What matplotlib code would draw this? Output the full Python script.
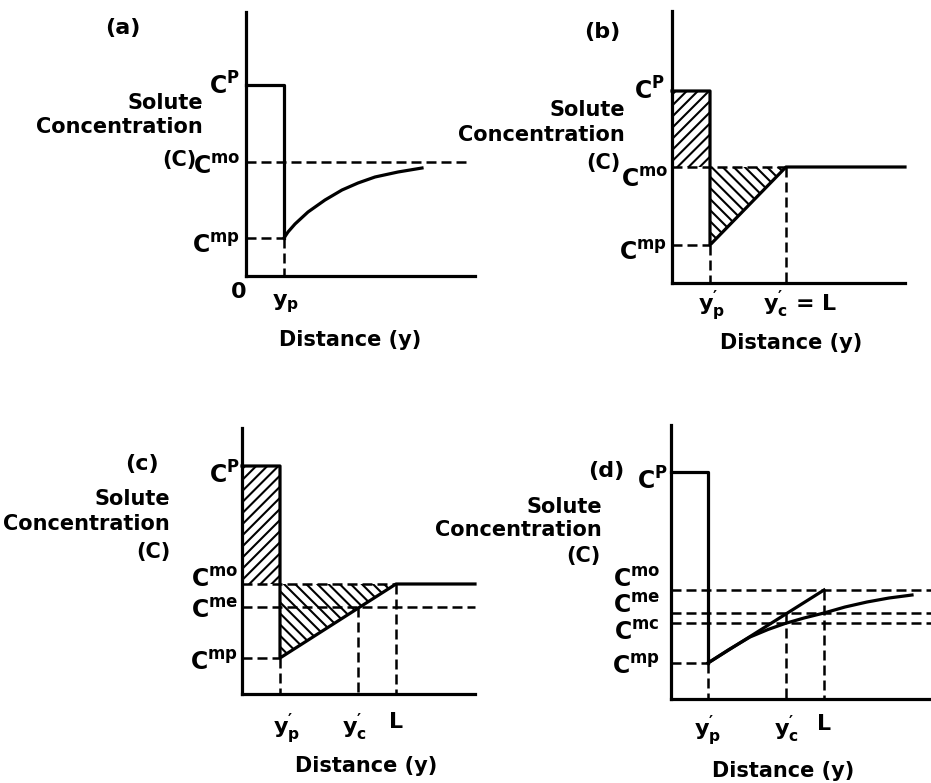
import matplotlib
matplotlib.use('Agg')
import matplotlib.pyplot as plt
from matplotlib.patches import Polygon

FIG_W, FIG_H = 931, 783
LW = 2.3
DASH = dict(color='black', lw=1.8, linestyle=(0, (4, 2)), clip_on=False)
SOLID = dict(color='black', lw=LW, clip_on=False, solid_joinstyle='round')

plt.rcParams['font.family'] = ['DejaVu Sans']
plt.rcParams['font.weight'] = 'bold'
plt.rcParams['mathtext.fontset'] = 'custom'
plt.rcParams['mathtext.rm'] = 'DejaVu Sans:bold'
plt.rcParams['mathtext.it'] = 'DejaVu Sans:bold'
plt.rcParams['mathtext.bf'] = 'DejaVu Sans:bold'
plt.rcParams['hatch.linewidth'] = 1.5

# panel (a): distance / concentration in arbitrary units
a_xmax, a_ymax = 22.9, 26.4
a_yp = 3.8
a_cp, a_cmo, a_cmp = 19.1, 11.4, 3.8
a_dash_end = 22.2
a_curve_y = [3.8, 4.2, 4.9, 6.2, 7.9, 9.6, 11.2, 12.9, 15.2, 17.6]
a_curve_c = [3.8, 4.4, 5.2, 6.4, 7.6, 8.6, 9.3, 9.9, 10.4, 10.8]

# panel (b)
b_xmax, b_ymax = 23.3, 27.2
b_yp, b_L = 3.8, 11.4
b_cp, b_cmo, b_cmp = 19.2, 11.6, 3.8

# panel (c)
c_xmax, c_ymax = 23.3, 26.6
c_yp, c_yc, c_L = 3.8, 11.6, 15.4
c_cp, c_cmo, c_cme, c_cmp = 22.8, 11.0, 8.7, 3.6

# panel (d)
d_xmax, d_ymax = 26.0, 27.4
d_yp, d_yc, d_L = 3.7, 11.5, 15.3
d_cp, d_cmo, d_cme, d_cmc, d_cmp = 22.7, 10.9, 8.6, 7.6, 3.6
d_curve_y = [3.7, 5.8, 7.9, 9.7, 11.4, 13.3, 15.3, 17.4, 19.6, 21.8, 24.1]
d_curve_c = [3.6, 4.95, 6.2, 6.95, 7.55, 8.1, 8.6, 9.2, 9.7, 10.1, 10.4]

fig = plt.figure(figsize=(FIG_W / 100, FIG_H / 100), dpi=100)


def panel_axes(left, top, right, bottom, xmax, ymax):
    ax = fig.add_axes([left / FIG_W, 1 - bottom / FIG_H,
                       (right - left) / FIG_W, (bottom - top) / FIG_H])
    ax.set_xlim(0, xmax)
    ax.set_ylim(0, ymax)
    for s in ['top', 'right']:
        ax.spines[s].set_visible(False)
    for s in ['left', 'bottom']:
        ax.spines[s].set_linewidth(LW)
    ax.set_xticks([])
    ax.set_yticks([])
    ax.patch.set_visible(False)
    return ax


def c_label(ax, level, sup, dx, dy):
    text = r'C$^{\mathrm{%s}}$' % sup
    ax.annotate(text, xy=(0, level), xytext=(dx, dy), textcoords='offset pixels',
                ha='right', va='baseline', fontsize=17, annotation_clip=False)


def x_label(ax, pos, text, dx, dy):
    ax.annotate(text, xy=(pos, 0), xytext=(dx, dy), textcoords='offset pixels',
                ha='center', va='top', fontsize=16, annotation_clip=False)


def fig_text(x, y, s, ha='center', size=15):
    fig.text(x / FIG_W, 1 - y / FIG_H, s, ha=ha, va='center', fontsize=size)


def hatch(ax, pts, pattern):
    ax.add_patch(Polygon(pts, closed=True, facecolor='none', edgecolor='black',
                         lw=0, hatch=pattern, clip_on=False))


def side_text(title, tx, ty, right, y1, y2, c_right, y3, dist_x, dist_y):
    fig_text(tx, ty, title, size=16)
    fig_text(right, y1, 'Solute', ha='right')
    fig_text(right, y2, 'Concentration', ha='right')
    fig_text(c_right, y3, '(C)', ha='right')
    fig_text(dist_x, dist_y, 'Distance (y)')


PRIME_P = r"$\mathrm{y}^{\prime}_{\mathrm{p}}$"
PRIME_C = r"$\mathrm{y}^{\prime}_{\mathrm{c}}$"

# ---- (a)
ax = panel_axes(246, 12, 475, 276, a_xmax, a_ymax)
ax.plot([0, a_yp, a_yp], [a_cp, a_cp, a_cmp], **SOLID)
ax.plot(a_curve_y, a_curve_c, **SOLID)
ax.plot([0, a_dash_end], [a_cmo, a_cmo], **DASH)
ax.plot([0, a_yp], [a_cmp, a_cmp], **DASH)
ax.plot([a_yp, a_yp], [a_cmp, 0], **DASH)
c_label(ax, a_cp, 'P', -6, -10)
c_label(ax, a_cmo, 'mo', -6, -12)
c_label(ax, a_cmp, 'mp', -6, -15)
x_label(ax, 0, '0', -7, -6)
x_label(ax, a_yp, r'$\mathrm{y}_{\mathrm{p}}$', 2, -16)
side_text('(a)', 123, 28, 203, 103, 127, 197, 160, 350, 340)

# ---- (b)
ax = panel_axes(672, 11, 905, 283, b_xmax, b_ymax)
hatch(ax, [(0, b_cmo), (b_yp, b_cmo), (b_yp, b_cp), (0, b_cp)], '///')
hatch(ax, [(b_yp, b_cmo), (b_L, b_cmo), (b_yp, b_cmp)], '\\\\\\')
ax.plot([0, b_yp, b_yp, b_L, b_xmax], [b_cp, b_cp, b_cmp, b_cmo, b_cmo], **SOLID)
ax.plot([0, b_L], [b_cmo, b_cmo], **DASH)
ax.plot([0, b_yp], [b_cmp, b_cmp], **DASH)
ax.plot([b_yp, b_yp], [b_cmp, 0], **DASH)
ax.plot([b_L, b_L], [b_cmo, 0], **DASH)
c_label(ax, b_cp, 'P', -7, -9)
c_label(ax, b_cmo, 'mo', -4, -20)
c_label(ax, b_cmp, 'mp', -5, -15)
x_label(ax, b_yp, PRIME_P, 2, -6)
x_label(ax, b_L, PRIME_C + ' = L', 14, -6)
side_text('(b)', 602, 32, 625, 110, 135, 620, 163, 791, 343)

# ---- (c)
ax = panel_axes(242, 428, 475, 694, c_xmax, c_ymax)
hatch(ax, [(0, c_cmo), (c_yp, c_cmo), (c_yp, c_cp), (0, c_cp)], '///')
hatch(ax, [(c_yp, c_cmo), (c_L, c_cmo), (c_yp, c_cmp)], '\\\\\\')
ax.plot([0, c_yp, c_yp, c_L, c_xmax], [c_cp, c_cp, c_cmp, c_cmo, c_cmo], **SOLID)
ax.plot([0, c_L], [c_cmo, c_cmo], **DASH)
ax.plot([0, c_xmax], [c_cme, c_cme], **DASH)
ax.plot([0, c_yp], [c_cmp, c_cmp], **DASH)
ax.plot([c_yp, c_yp], [c_cmp, 0], **DASH)
ax.plot([c_yc, c_yc], [c_cme, 0], **DASH)
ax.plot([c_L, c_L], [c_cmo, 0], **DASH)
c_label(ax, c_cp, 'P', -2, -18)
c_label(ax, c_cmo, 'mo', -4, -3)
c_label(ax, c_cme, 'me', -4, -11)
c_label(ax, c_cmp, 'mp', -4, -12)
x_label(ax, c_yp, PRIME_P, 7, -18)
x_label(ax, c_yc, PRIME_C, -4, -18)
x_label(ax, c_L, 'L', 0, -18)
side_text('(c)', 142, 464, 170, 499, 524, 170, 552, 366, 766)

# ---- (d)
ax = panel_axes(671, 425, 931, 699, d_xmax, d_ymax)
ax.plot([0, d_yp, d_yp], [d_cp, d_cp, d_cmp], **SOLID)
ax.plot([d_yp, d_L], [d_cmp, d_cmo], **SOLID)
ax.plot(d_curve_y, d_curve_c, **SOLID)
for lvl in [d_cmo, d_cme, d_cmc]:
    ax.plot([0, d_xmax], [lvl, lvl], **DASH)
ax.plot([0, d_yp], [d_cmp, d_cmp], **DASH)
ax.plot([d_yp, d_yp], [d_cmp, 0], **DASH)
ax.plot([d_yc, d_yc], [d_cme, 0], **DASH)
ax.plot([d_L, d_L], [d_cmo, 0], **DASH)
c_label(ax, d_cp, 'P', -3, -18)
c_label(ax, d_cmo, 'mo', -11, 3)
c_label(ax, d_cme, 'me', -11, 0)
c_label(ax, d_cmc, 'mc', -11, -17)
c_label(ax, d_cmp, 'mp', -11, -11)
x_label(ax, d_yp, PRIME_P, 0, -15)
x_label(ax, d_yc, PRIME_C, 0, -15)
x_label(ax, d_L, 'L', 0, -15)
side_text('(d)', 606, 471, 602, 507, 530, 600, 556, 783, 771)

fig.savefig('out.png', dpi=100)
